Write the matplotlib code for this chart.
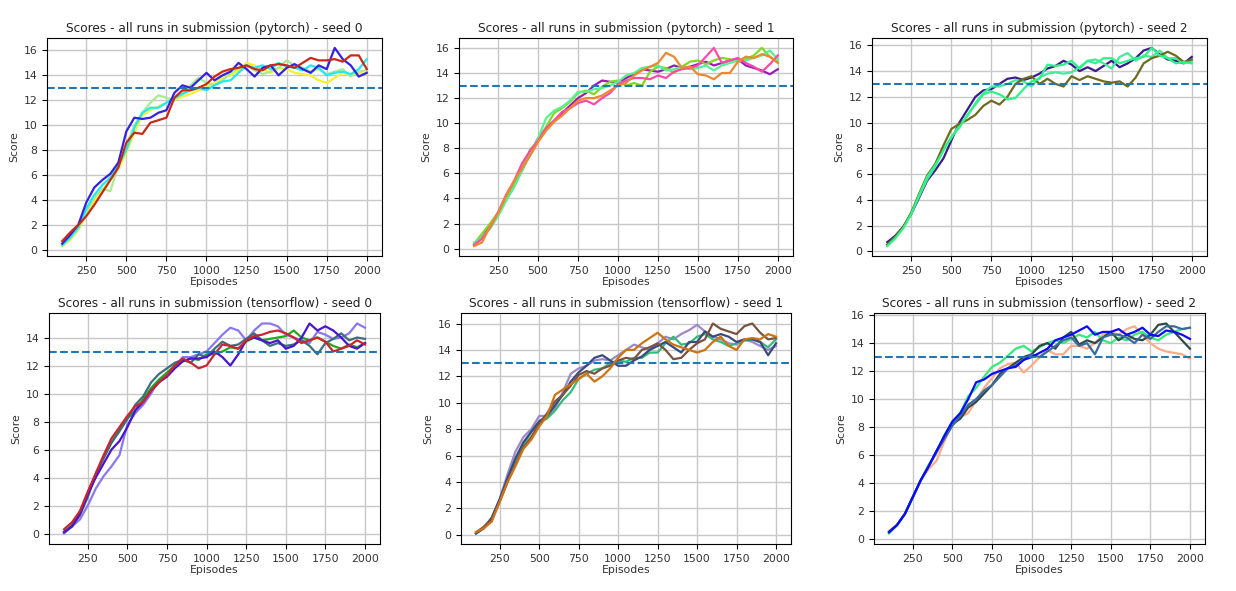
import matplotlib
matplotlib.use('Agg')
import matplotlib.pyplot as plt

# episodes (score averaged over last 100 episodes, read every 50 episodes)
episodes = list(range(100, 2001, 50))

# pytorch - seed 0
pt0_blue = [0.5, 1.2, 2.0, 3.8, 5.0, 5.6, 6.1, 7.0, 9.5, 10.6, 10.5, 10.6, 11.0, 11.2, 12.6, 13.2, 13.0, 13.6, 14.2, 13.6,
            14.0, 14.3, 15.0, 14.5, 13.9, 14.6, 14.8, 14.0, 14.6, 14.9, 14.5, 14.2, 14.8, 14.5, 16.2, 15.3, 14.8, 13.9, 14.2]
pt0_cyan = [0.4, 1.0, 1.8, 3.3, 4.4, 5.2, 5.8, 6.8, 8.0, 9.8, 11.0, 11.4, 11.4, 11.8, 12.2, 12.5, 12.8, 13.0, 12.8, 13.2,
            13.5, 13.6, 14.2, 14.8, 14.6, 14.8, 14.5, 15.0, 14.7, 14.6, 14.4, 14.8, 14.6, 14.0, 14.2, 14.3, 14.1, 14.5, 15.3]
pt0_lgreen = [0.3, 0.9, 1.7, 3.0, 4.2, 4.9, 4.7, 6.8, 8.4, 10.0, 11.0, 11.8, 12.4, 12.2, 12.0, 12.6, 13.2, 13.8, 13.4, 13.2,
              13.6, 14.2, 14.6, 14.8, 14.4, 14.1, 14.3, 14.6, 15.2, 14.8, 14.6, 14.3, 14.5, 14.1, 14.3, 14.5, 13.9, 14.3, 14.4]
pt0_yellow = [0.3, 0.8, 1.6, 2.8, 3.9, 4.8, 5.6, 6.5, 7.8, 9.4, 10.8, 11.2, 11.5, 11.8, 12.0, 12.3, 12.5, 12.8, 13.0, 13.4,
              13.8, 14.0, 14.4, 15.0, 14.8, 14.5, 14.2, 14.6, 14.5, 14.2, 14.1, 14.0, 13.6, 13.4, 13.8, 14.2, 14.0, 14.2, 14.1]
pt0_red = [0.7, 1.4, 2.0, 2.7, 3.6, 4.6, 5.6, 6.6, 8.6, 9.4, 9.3, 10.2, 10.4, 10.6, 12.2, 12.8, 12.8, 13.0, 13.3, 13.9,
           14.3, 14.5, 14.6, 14.8, 14.5, 14.4, 14.8, 14.9, 14.8, 14.6, 15.0, 15.4, 15.2, 15.2, 15.3, 15.1, 15.6, 15.6, 14.5]

# pytorch - seed 1
pt1_purple = [0.3, 0.9, 1.8, 2.8, 4.0, 5.1, 6.3, 7.6, 8.8, 9.6, 10.2, 10.8, 11.4, 12.0, 12.4, 13.0, 13.4, 13.3, 13.2, 13.6,
              13.9, 14.3, 14.2, 14.1, 14.3, 14.6, 14.4, 14.5, 14.7, 14.9, 14.6, 14.8, 15.0, 15.1, 14.6, 14.4, 14.2, 13.9, 14.3]
pt1_lime = [0.4, 1.2, 2.0, 2.9, 4.1, 5.2, 6.4, 7.9, 8.6, 9.7, 10.8, 11.2, 11.7, 12.4, 12.6, 12.3, 12.9, 13.3, 13.4, 13.0,
            13.2, 13.0, 14.1, 14.5, 14.4, 14.0, 14.5, 14.9, 15.0, 14.7, 15.0, 15.2, 15.1, 14.9, 15.1, 15.4, 16.0, 15.3, 14.9]
pt1_spring = [0.5, 0.9, 1.6, 2.6, 3.8, 4.9, 6.2, 7.5, 8.8, 10.4, 11.0, 11.3, 11.8, 12.5, 12.5, 12.7, 12.8, 13.0, 13.3, 13.8,
              14.0, 14.4, 14.5, 14.6, 14.2, 14.3, 14.5, 14.3, 14.4, 14.6, 14.2, 14.6, 14.8, 15.0, 15.0, 15.2, 15.4, 15.8, 15.1]
pt1_pink = [0.3, 0.8, 1.7, 2.9, 4.3, 5.4, 6.8, 7.8, 8.6, 9.6, 10.2, 10.9, 11.2, 11.6, 11.8, 11.5, 12.0, 12.4, 13.1, 13.4,
            13.6, 13.6, 13.5, 13.8, 13.6, 14.1, 14.3, 14.4, 14.6, 15.3, 16.0, 14.8, 15.0, 15.2, 14.8, 14.5, 14.1, 14.7, 15.4]
pt1_orange = [0.2, 0.5, 1.8, 2.8, 4.2, 5.4, 6.4, 7.4, 8.5, 9.4, 10.1, 10.6, 11.2, 11.8, 12.0, 12.0, 12.2, 12.6, 13.0, 13.2,
              13.8, 14.2, 14.5, 14.8, 15.6, 15.3, 14.4, 14.5, 13.9, 13.8, 13.5, 14.0, 14.0, 14.9, 15.3, 15.2, 15.5, 15.3, 14.8]

# pytorch - seed 2
pt2_indigo = [0.7, 1.2, 1.9, 2.9, 4.2, 5.5, 6.3, 7.2, 8.6, 10.0, 11.0, 12.0, 12.5, 12.6, 13.0, 13.4, 13.5, 13.3, 13.5, 13.8,
              14.2, 14.4, 14.8, 14.5, 14.0, 14.3, 14.0, 14.4, 14.8, 14.3, 14.6, 15.0, 15.6, 15.8, 15.3, 14.9, 14.8, 14.6, 15.1]
pt2_olive = [0.5, 1.1, 1.9, 3.0, 4.5, 5.9, 6.8, 8.2, 9.5, 9.9, 10.2, 10.6, 11.3, 11.7, 11.4, 12.0, 13.0, 13.4, 13.6, 13.0,
             13.4, 13.0, 12.8, 13.6, 13.3, 13.6, 13.4, 13.2, 13.1, 13.2, 12.8, 13.5, 14.6, 15.0, 15.2, 15.5, 15.2, 14.7, 14.9]
pt2_green = [0.4, 1.0, 1.8, 2.9, 4.4, 5.8, 6.7, 7.8, 8.9, 9.6, 10.6, 11.4, 12.2, 12.4, 12.2, 11.8, 11.9, 12.6, 13.2, 13.4,
             14.5, 14.4, 14.5, 14.8, 14.2, 14.8, 14.6, 15.0, 15.0, 14.6, 14.8, 15.0, 15.1, 15.8, 15.2, 15.0, 14.6, 14.7, 14.6]
pt2_mint = [0.5, 1.1, 1.8, 3.0, 4.3, 5.6, 6.6, 7.9, 8.8, 9.8, 10.5, 11.5, 12.3, 12.8, 12.8, 13.0, 13.3, 13.2, 12.8, 13.5,
            13.8, 13.9, 13.8, 13.9, 14.3, 14.8, 14.9, 14.6, 14.2, 15.1, 15.4, 14.8, 15.2, 15.1, 15.6, 15.0, 15.0, 14.6, 14.8]

# tensorflow - seed 0
tf0_lilac = [0.0, 0.5, 1.0, 2.0, 3.2, 4.1, 4.8, 5.6, 7.8, 8.6, 9.2, 10.0, 11.0, 11.4, 12.0, 12.6, 12.6, 12.8, 13.0, 13.6,
             14.2, 14.7, 14.5, 13.8, 14.5, 15.0, 15.0, 14.8, 14.2, 14.0, 13.8, 13.6, 14.4, 14.2, 13.9, 14.0, 14.3, 15.0, 14.7]
tf0_green = [0.1, 0.6, 1.5, 2.8, 4.2, 5.4, 6.5, 7.4, 8.2, 8.8, 9.6, 10.4, 11.0, 11.5, 12.0, 12.3, 12.5, 12.4, 12.8, 12.8,
             13.0, 13.3, 13.2, 13.7, 14.0, 13.8, 13.9, 14.0, 14.1, 14.5, 14.0, 13.8, 14.0, 13.7, 13.4, 13.2, 13.5, 13.3, 13.6]
tf0_teal = [0.1, 0.5, 1.3, 2.6, 4.2, 5.4, 6.5, 7.3, 8.2, 9.2, 9.8, 10.8, 11.4, 11.8, 12.2, 12.4, 12.2, 12.8, 12.6, 13.2,
            13.7, 13.4, 13.5, 13.9, 14.3, 13.8, 13.4, 13.6, 13.4, 13.5, 13.8, 13.4, 12.8, 13.6, 13.9, 14.3, 13.8, 14.0, 13.9]
tf0_violet = [0.1, 0.5, 1.4, 2.8, 4.0, 5.0, 6.0, 6.6, 7.6, 8.8, 9.4, 10.2, 10.8, 11.2, 11.8, 12.3, 12.5, 12.5, 12.6, 13.0,
              12.6, 12.0, 12.8, 13.8, 14.0, 13.8, 13.6, 13.8, 13.2, 13.4, 14.0, 15.0, 14.5, 14.8, 14.5, 14.0, 13.4, 13.2, 13.6]
tf0_red = [0.3, 0.8, 1.6, 3.0, 4.3, 5.6, 6.8, 7.6, 8.4, 9.1, 9.4, 10.2, 10.8, 11.3, 12.0, 12.5, 12.2, 11.8, 12.0, 12.8,
           13.5, 13.4, 13.2, 13.8, 14.1, 14.2, 14.4, 14.5, 14.3, 14.0, 13.6, 13.8, 14.0, 13.7, 13.0, 13.2, 13.4, 13.8, 13.5]

# tensorflow - seed 1
tf1_lavender = [0.1, 0.6, 1.3, 2.7, 4.6, 6.3, 7.4, 8.0, 9.0, 9.0, 9.6, 10.8, 12.2, 12.6, 12.8, 13.2, 13.3, 13.2, 13.6, 14.0,
                14.4, 14.2, 14.0, 14.5, 15.0, 14.8, 15.2, 15.5, 15.9, 15.4, 15.0, 14.8, 14.5, 14.4, 14.8, 14.6, 14.3, 14.0, 14.3]
tf1_green = [0.1, 0.5, 1.2, 2.6, 4.2, 5.6, 6.8, 7.8, 8.5, 8.8, 9.4, 10.2, 10.8, 11.8, 12.2, 12.5, 12.6, 13.0, 13.2, 13.1,
             13.4, 13.4, 13.8, 13.8, 14.5, 15.0, 14.4, 14.5, 15.0, 15.2, 14.8, 14.6, 14.3, 14.5, 14.7, 14.8, 14.6, 14.2, 14.8]
tf1_slate = [0.1, 0.5, 1.3, 2.7, 4.3, 5.8, 7.0, 7.8, 8.6, 9.0, 9.8, 10.6, 11.6, 12.3, 12.8, 13.4, 13.6, 13.2, 12.8, 12.8,
             13.2, 13.5, 14.0, 14.3, 14.6, 14.2, 13.8, 14.6, 14.6, 15.4, 15.0, 15.2, 15.0, 14.6, 14.8, 14.8, 14.6, 13.6, 14.5]
tf1_brown = [0.2, 0.6, 1.2, 2.5, 4.0, 5.3, 6.6, 7.4, 8.4, 9.2, 10.1, 10.6, 11.3, 12.1, 12.4, 12.2, 12.6, 12.8, 13.2, 13.4,
             13.3, 14.0, 14.2, 14.5, 14.0, 13.3, 13.4, 14.0, 14.5, 14.8, 16.0, 15.6, 15.4, 15.2, 15.8, 16.0, 15.3, 14.8, 14.9]
tf1_orange = [0.2, 0.5, 1.0, 2.5, 4.0, 5.2, 6.5, 7.2, 8.2, 9.0, 10.6, 11.0, 11.4, 11.8, 12.2, 11.6, 12.0, 12.6, 13.4, 14.0,
              14.0, 14.5, 14.9, 15.3, 14.8, 14.4, 14.2, 14.0, 13.8, 14.0, 14.6, 15.0, 14.3, 14.0, 14.8, 14.9, 14.8, 15.2, 15.0]

# tensorflow - seed 2
tf2_salmon = [0.6, 1.0, 1.8, 3.0, 4.2, 5.0, 5.6, 7.0, 8.3, 8.7, 9.0, 9.9, 10.8, 11.5, 12.2, 12.5, 12.6, 11.9, 12.4, 13.0,
              13.5, 13.2, 13.2, 13.8, 13.8, 13.6, 14.0, 14.6, 14.8, 14.6, 15.0, 15.2, 14.6, 14.0, 13.6, 13.4, 13.3, 13.2, 12.9]
tf2_spring = [0.4, 1.0, 1.8, 3.0, 4.2, 5.3, 6.2, 7.4, 8.4, 9.0, 10.2, 10.8, 11.6, 12.3, 12.6, 13.1, 13.6, 13.8, 13.4, 13.7,
              14.0, 14.2, 14.0, 14.3, 14.6, 14.4, 14.8, 14.2, 14.0, 14.4, 14.2, 14.6, 14.8, 14.4, 14.2, 14.6, 14.8, 15.0, 15.1]
tf2_dark = [0.5, 1.0, 1.8, 3.0, 4.2, 5.2, 6.3, 7.2, 8.2, 8.6, 9.4, 9.8, 10.4, 11.0, 11.8, 12.2, 12.6, 13.0, 13.2, 13.8,
            14.0, 13.6, 14.4, 14.8, 13.9, 14.2, 14.0, 14.4, 14.8, 14.2, 14.6, 14.3, 14.2, 14.6, 15.3, 15.4, 14.8, 14.2, 13.6]
tf2_steel = [0.5, 1.0, 1.8, 3.0, 4.2, 5.2, 6.2, 7.2, 8.1, 8.8, 9.6, 10.0, 10.6, 11.0, 11.6, 12.2, 12.4, 12.8, 13.2, 13.0,
             13.4, 13.8, 14.2, 14.4, 13.8, 14.0, 13.2, 14.4, 14.6, 14.6, 14.4, 14.0, 14.6, 14.3, 14.8, 15.2, 15.2, 15.0, 15.1]
tf2_blue = [0.5, 1.0, 1.8, 3.0, 4.2, 5.2, 6.3, 7.4, 8.4, 9.0, 10.0, 11.2, 11.4, 11.8, 12.0, 12.2, 12.3, 12.8, 13.0, 13.3,
            13.6, 14.2, 14.4, 14.6, 14.9, 15.2, 14.6, 14.8, 14.8, 15.0, 14.6, 14.8, 15.1, 14.6, 14.5, 14.9, 14.8, 14.6, 14.3]

target_score = 13

panels = [
    ('Scores - all runs in submission (pytorch) - seed 0',
     [(pt0_yellow, '#f2f230'), (pt0_lgreen, '#aaea90'), (pt0_cyan, '#22e8f5'), (pt0_blue, '#3322e0'), (pt0_red, '#c82a14')]),
    ('Scores - all runs in submission (pytorch) - seed 1',
     [(pt1_purple, '#9a1cb8'), (pt1_lime, '#80d822'), (pt1_spring, '#58f090'), (pt1_pink, '#ff4aa8'), (pt1_orange, '#ee8830')]),
    ('Scores - all runs in submission (pytorch) - seed 2',
     [(pt2_indigo, '#3a1a8c'), (pt2_mint, '#48e8a0'), (pt2_olive, '#6e6a1e'), (pt2_green, '#2ef488')]),
    ('Scores - all runs in submission (tensorflow) - seed 0',
     [(tf0_lilac, '#8a78f0'), (tf0_green, '#20aa20'), (tf0_teal, '#3c6e7c'), (tf0_violet, '#4a14d0'), (tf0_red, '#cc2430')]),
    ('Scores - all runs in submission (tensorflow) - seed 1',
     [(tf1_lavender, '#9a8ac8'), (tf1_green, '#34bb78'), (tf1_slate, '#3a4a80'), (tf1_brown, '#7a5242'), (tf1_orange, '#cc7414')]),
    ('Scores - all runs in submission (tensorflow) - seed 2',
     [(tf2_salmon, '#ffaa88'), (tf2_spring, '#34ea78'), (tf2_dark, '#2e4a4a'), (tf2_steel, '#3a6aa0'), (tf2_blue, '#0a0aff')]),
]

W, H = 1236, 591
# axes boxes in pixels: left, top, right, bottom
boxes = [(47, 38, 382, 256), (459, 38, 793, 256), (872, 38, 1207, 256),
         (49, 313, 380, 544), (461, 313, 791, 544), (874, 313, 1205, 544)]

fig = plt.figure(figsize=(W / 100, H / 100), dpi=100)

for (title, runs), (l, t, r, b) in zip(panels, boxes):
    ax = fig.add_axes([l / W, (H - b) / H, (r - l) / W, (b - t) / H])
    for scores, color in runs:
        ax.plot(episodes, scores, color=color, linewidth=1.6)
    ax.axhline(y=target_score, linestyle='--', color='#1f77b4', linewidth=1.5)
    ax.set_title(title, fontsize=8.7, pad=4, color='#222222')
    ax.set_xlabel('Episodes', fontsize=7.8, labelpad=1, color='#333333')
    ax.set_ylabel('Score', fontsize=7.8, labelpad=3, color='#333333')
    ax.set_xticks([250, 500, 750, 1000, 1250, 1500, 1750, 2000])
    ax.tick_params(labelsize=7.8, labelcolor='#333333')
    ax.grid(True, color='#c8c8c8', linewidth=1)

fig.savefig('out.png', dpi=100)
